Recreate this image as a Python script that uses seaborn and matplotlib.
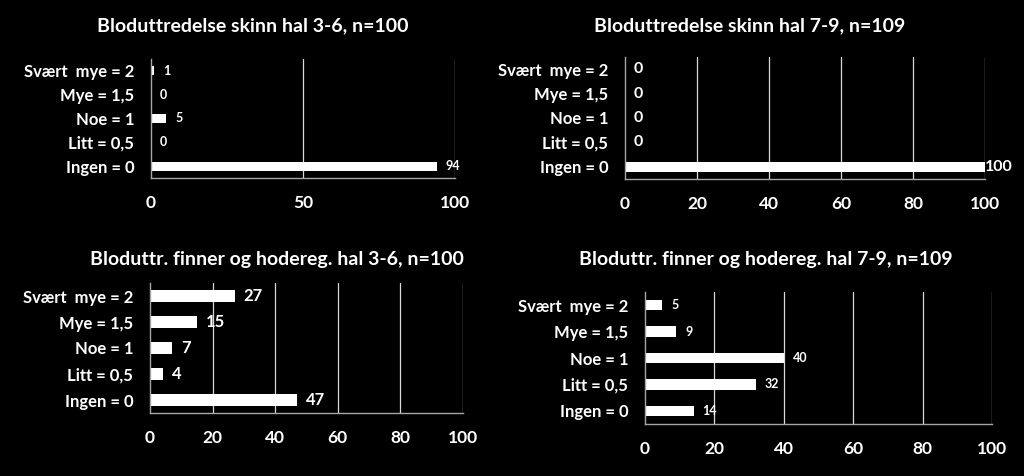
import matplotlib
matplotlib.use("Agg")
import matplotlib.pyplot as plt
import seaborn as sns
import pandas as pd
import numpy as np

categories = ["Svært  mye = 2", "Mye = 1,5", "Noe = 1", "Litt = 0,5", "Ingen = 0"]
skinn_3_6 = [1, 0, 5, 0, 94]
skinn_7_9 = [0, 0, 0, 0, 100]
finner_3_6 = [27, 15, 7, 4, 47]
finner_7_9 = [5, 9, 40, 32, 14]
titles = ["Bloduttredelse skinn hal 3-6, n=100",
          "Bloduttredelse skinn hal 7-9, n=109",
          "Bloduttr. finner og hodereg. hal 3-6, n=100",
          "Bloduttr. finner og hodereg. hal 7-9, n=109"]
xticks_list = [[0, 50, 100], [0, 20, 40, 60, 80, 100],
               [0, 20, 40, 60, 80, 100], [0, 20, 40, 60, 80, 100]]

sns.set_theme(style="dark")
plt.rcParams['font.family'] = ['Lato', 'DejaVu Sans']

W, H = 1024, 476
fig = plt.figure(figsize=(W / 100, H / 100), dpi=100, facecolor="black")

# (left, top, right, bottom) px; title center (x, y); bar width; value fontsize
panels = [
    dict(box=(151, 59, 455, 178), tpos=(253, 26), bw=0.37, vfs=9, data=skinn_3_6),
    dict(box=(625, 57, 985, 179), tpos=(750, 26), bw=0.43, vfs=11.5, data=skinn_7_9),
    dict(box=(150, 283, 463, 413), tpos=(277, 260), bw=0.46, vfs=12, data=finner_3_6),
    dict(box=(645, 292, 992, 424), tpos=(766, 260), bw=0.40, vfs=9, data=finner_7_9),
]
offsets = [9, 0, 9, 9]

axcol = "#a6a6a6"
gridcol = "#d9d9d9"

for i, p in enumerate(panels):
    l, t, r, b = p["box"]
    ax = fig.add_axes([l / W, 1 - b / H, (r - l) / W, (b - t) / H])
    ax.set_facecolor("black")
    df = pd.DataFrame({"cat": categories, "val": p["data"]})
    sns.barplot(data=df, x="val", y="cat", order=categories, color="white",
                width=p["bw"], edgecolor="white", linewidth=0, saturation=1, ax=ax)
    ax.set_xlim(0, 100)
    ax.set_ylim(4.5, -0.5)
    ax.set_xticks(xticks_list[i])
    ax.set_xticklabels([str(v) for v in xticks_list[i]])
    ax.set_xlabel("")
    ax.set_ylabel("")
    ax.grid(False)
    for xv in xticks_list[i][1:]:
        ax.axvline(xv, color=gridcol, lw=0.9, zorder=0)
    for s in ["top", "right"]:
        ax.spines[s].set_visible(False)
    for s in ["left", "bottom"]:
        ax.spines[s].set_visible(True)
        ax.spines[s].set_color(axcol)
        ax.spines[s].set_linewidth(1.0)
    ax.tick_params(axis="y", which="major", length=0, pad=12, labelsize=12,
                   labelcolor="white")
    ax.set_yticks(np.arange(-0.5, 5, 1), minor=True)
    ax.tick_params(axis="y", which="minor", length=5, color=axcol, width=1, direction="out")
    ax.tick_params(axis="x", which="major", length=4, color=axcol, width=1, pad=8,
                   labelsize=12.5, labelcolor="white")
    for lab in ax.get_yticklabels() + ax.get_xticklabels():
        lab.set_fontweight("bold")
    for j, v in enumerate(p["data"]):
        ax.annotate(str(v), xy=(v, j), xytext=(offsets[i] if v != 0 else 9, 0),
                    textcoords="offset pixels", va="center", ha="left",
                    color="white", fontsize=p["vfs"], fontweight="bold")
    fig.text(p["tpos"][0] / W, 1 - p["tpos"][1] / H, titles[i], ha="center", va="center",
             color="white", fontsize=14, fontweight="bold")

fig.savefig("out.png", dpi=100, facecolor="black")
